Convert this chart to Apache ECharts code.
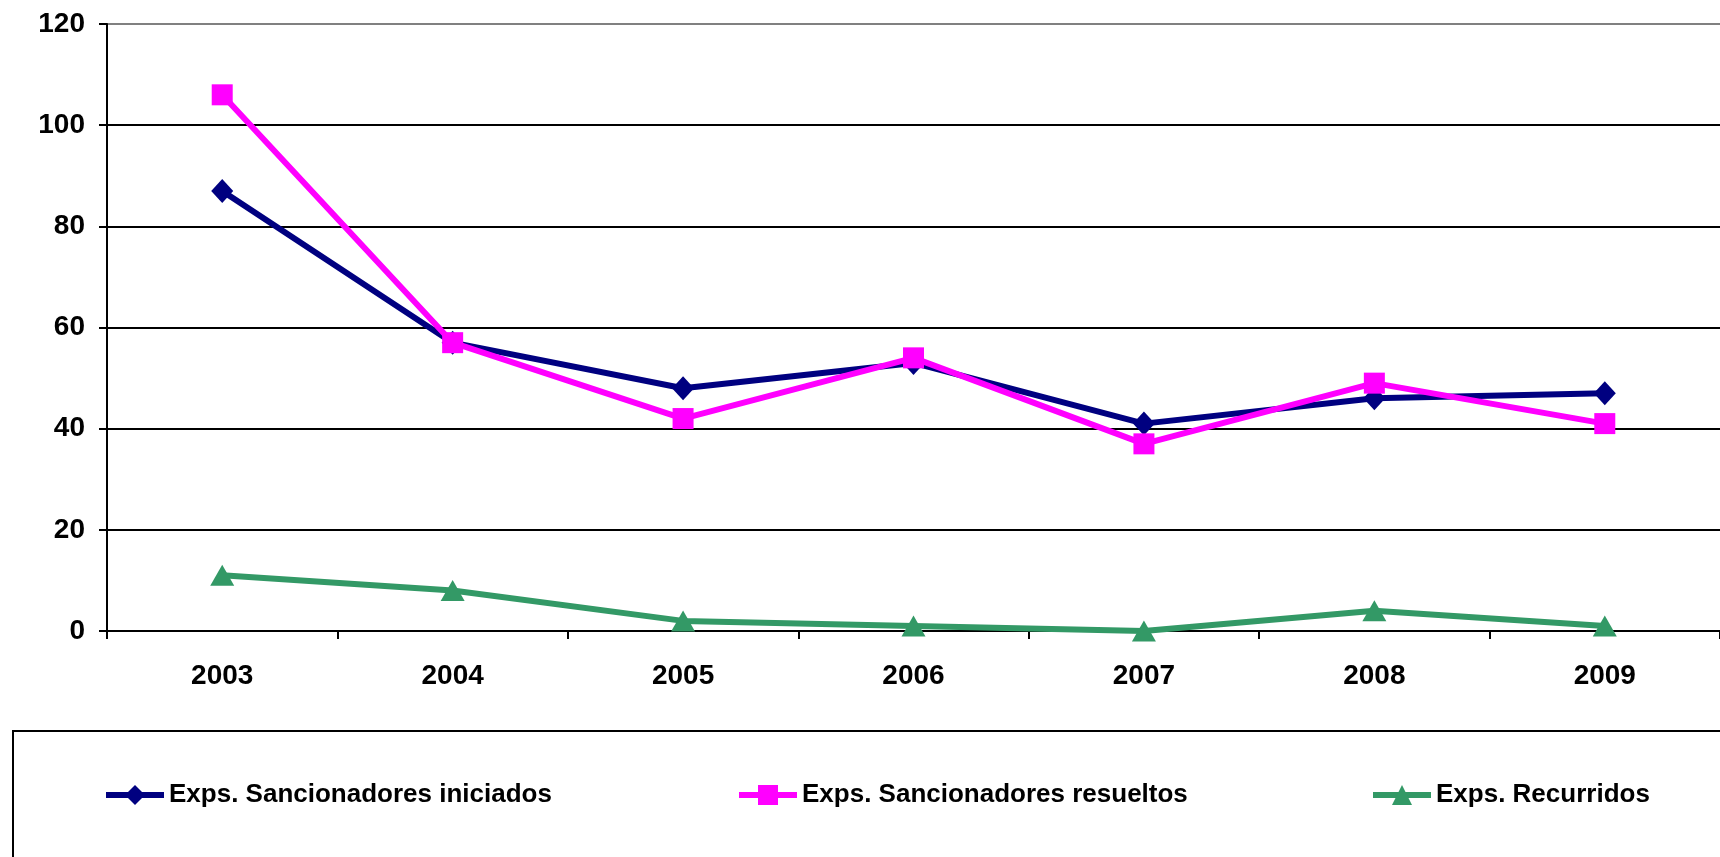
<!DOCTYPE html>
<html><head><meta charset="utf-8">
<script src="https://cdn.jsdelivr.net/npm/echarts@6/dist/echarts.min.js"></script>
<style>html,body{margin:0;padding:0;background:#fff}#c{width:1720px;height:857px}</style>
</head><body><div id="c"></div>
<script>
const categories = ['2003','2004','2005','2006','2007','2008','2009'];
const iniciados = [87, 57, 48, 53, 41, 46, 47];
const resueltos = [106, 57, 42, 54, 37, 49, 41];
const recurridos = [11, 8, 2, 1, 0, 4, 1];
const seriesNames = ['Exps. Sancionadores iniciados','Exps. Sancionadores resueltos','Exps. Recurridos'];

const font = 'Liberation Sans, Arial, sans-serif';
const chart = echarts.init(document.getElementById('c'));
const legendCommon = {
  top: 782, padding: 0, itemWidth: 58, itemHeight: 25, itemGap: 0,
  lineStyle: {width: 6},
  textStyle: {fontFamily: font, fontWeight: 'bold', fontSize: 26, color: '#000'},
  selectedMode: false
};
chart.setOption({
  animation: false,
  grid: {left: 107, right: -11, top: 24, bottom: 226, containLabel: false},
  graphic: [{type:'rect', shape:{x:13, y:731, width:1760, height:200}, style:{fill:'none', stroke:'#000', lineWidth:2}, z:-1}],
  legend: [
    Object.assign({}, legendCommon, {left: 103, data:[seriesNames[0]]}),
    Object.assign({}, legendCommon, {left: 736, data:[seriesNames[1]]}),
    Object.assign({}, legendCommon, {left: 1370, data:[seriesNames[2]]})
  ],
  xAxis: {
    type: 'category', data: categories, boundaryGap: true,
    axisLine: {lineStyle: {color: '#000', width: 2}},
    axisTick: {show: true, alignWithLabel: false, length: 8, lineStyle: {color:'#000', width: 2}},
    axisLabel: {fontFamily: font, fontWeight: 'bold', fontSize: 28, color: '#000', margin: 31}
  },
  yAxis: {
    type: 'value', min: 0, max: 120, interval: 20,
    axisLine: {show: true, lineStyle: {color: '#000', width: 2}},
    axisTick: {show: true, length: 8, lineStyle: {color:'#000', width: 2}},
    axisLabel: {fontFamily: font, fontWeight: 'bold', fontSize: 28, color: '#000', margin: 22},
    splitLine: {lineStyle: {color: ['#000','#000','#000','#000','#000','#000','#808080'], width: 2}}
  },
  series: [
    {name: seriesNames[0], type: 'line', data: iniciados, symbol: 'diamond', symbolSize: [22, 24],
     lineStyle: {color: '#000080', width: 6}, itemStyle: {color: '#000080'}, z: 3},
    {name: seriesNames[1], type: 'line', data: resueltos, symbol: 'rect', symbolSize: 21,
     lineStyle: {color: '#FF00FF', width: 6}, itemStyle: {color: '#FF00FF'}, z: 4},
    {name: seriesNames[2], type: 'line', data: recurridos, symbol: 'triangle', symbolSize: [24, 21],
     lineStyle: {color: '#339966', width: 6}, itemStyle: {color: '#339966'}, z: 2}
  ]
});
</script></body></html>
